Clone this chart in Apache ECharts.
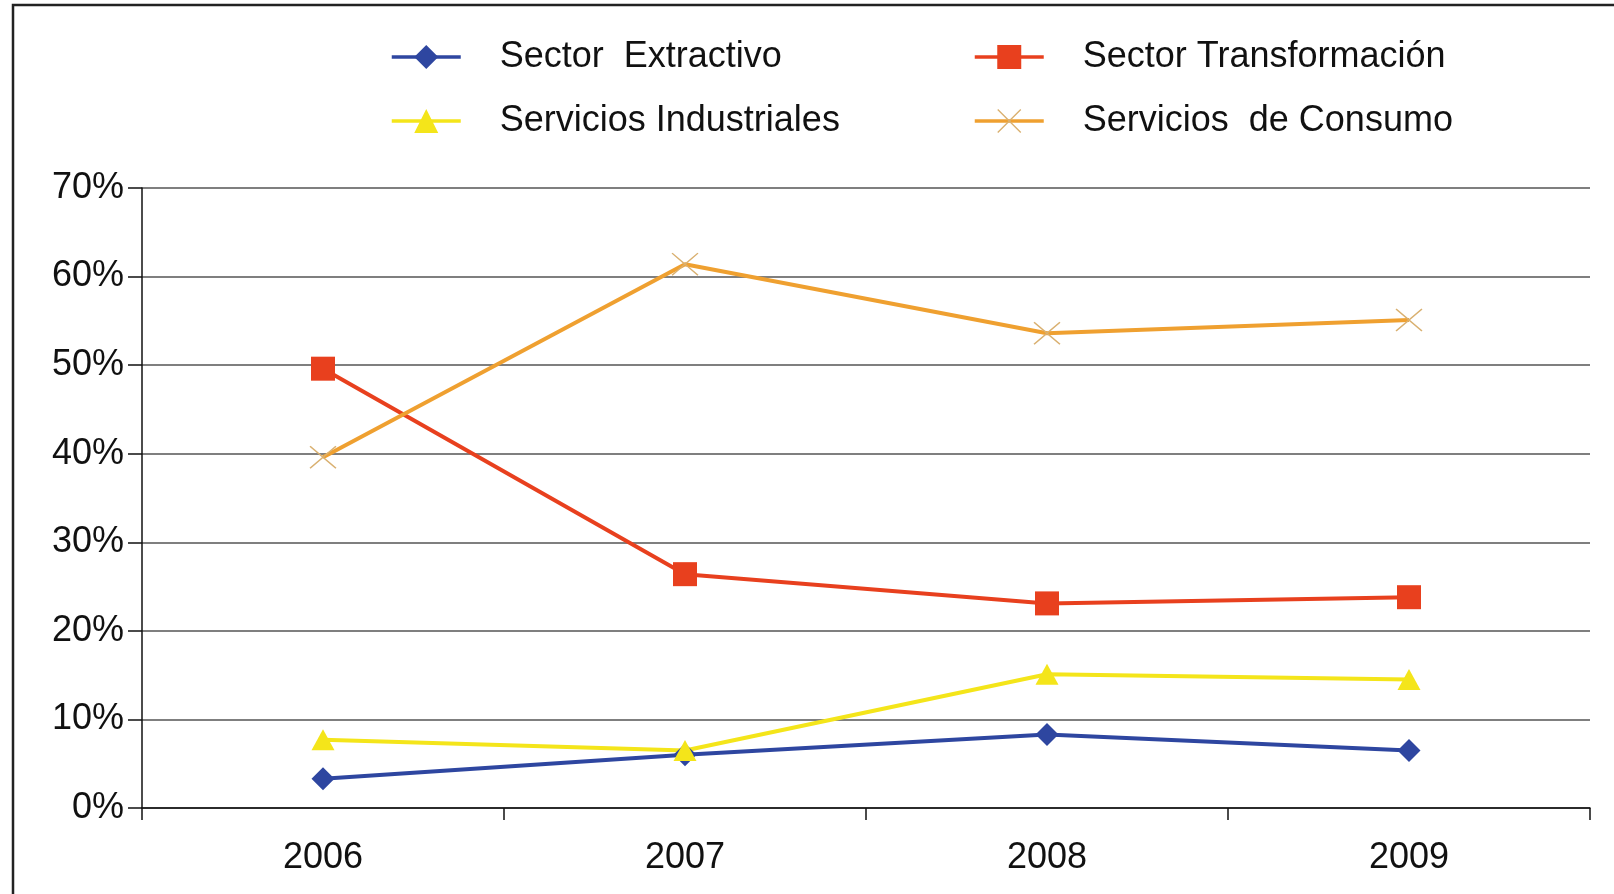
<!DOCTYPE html>
<html>
<head>
<meta charset="utf-8">
<script src="https://cdn.jsdelivr.net/npm/echarts@6/dist/echarts.min.js"></script>
<style>
  html, body { margin: 0; padding: 0; background: #fff; }
  #chart { width: 1614px; height: 894px; }
</style>
</head>
<body>
<div id="chart"></div>
<script>
// data (percent)
var years = ['2006', '2007', '2008', '2009'];
var extractivo = [3.3, 6.0, 8.3, 6.5];
var transformacion = [49.6, 26.4, 23.1, 23.8];
var industriales = [7.7, 6.5, 15.1, 14.5];
var consumo = [39.6, 61.4, 53.6, 55.1];
var yTicks = [0, 10, 20, 30, 40, 50, 60, 70];

var names = ['Sector  Extractivo', 'Sector Transformación', 'Servicios Industriales', 'Servicios  de Consumo'];
var crossPath = 'path://M0,4L4,0L50,46L96,0L100,4L54,50L100,96L96,100L50,54L4,100L0,96L46,50Z';

var chart = echarts.init(document.getElementById('chart'));

function legendAt(name, left, top) {
  return {
    data: [name],
    left: left,
    top: top,
    itemWidth: 69,
    itemHeight: 30,
    selectedMode: false,
    lineStyle: { width: 3.5 },
    textStyle: { fontSize: 36, color: '#111', fontFamily: 'Liberation Sans', padding: [0, 0, 0, 34] }
  };
}

var option = {
  animation: false,
  backgroundColor: '#fff',
  legend: [
    legendAt(names[0], 385, 34),
    legendAt(names[1], 968, 34),
    legendAt(names[2], 385, 98),
    legendAt(names[3], 968, 98)
  ],
  grid: { left: 142, right: 24, top: 188, bottom: 86 },
  xAxis: {
    type: 'category',
    data: years,
    boundaryGap: true,
    axisLine: { lineStyle: { color: '#111', width: 1.5 } },
    axisTick: { show: true, length: 12, lineStyle: { color: '#111', width: 1.5 } },
    axisLabel: { fontSize: 36, color: '#111', fontFamily: 'Liberation Sans', margin: 32 },
    splitLine: { show: false }
  },
  yAxis: {
    type: 'value',
    min: yTicks[0],
    max: yTicks[yTicks.length - 1],
    interval: 10,
    axisLine: { show: true, lineStyle: { color: '#111', width: 1.5 } },
    axisTick: { show: true, length: 14, lineStyle: { color: '#111', width: 1.5 } },
    axisLabel: { fontSize: 36, color: '#111', fontFamily: 'Liberation Sans', margin: 18, formatter: '{value}%' },
    splitLine: { show: true, lineStyle: { color: '#555', width: 1.5 } }
  },
  series: [
    {
      name: names[0], type: 'line', data: extractivo,
      symbol: 'diamond', symbolSize: 23,
      lineStyle: { color: '#2E46A0', width: 4 },
      itemStyle: { color: '#2E46A0' }
    },
    {
      name: names[1], type: 'line', data: transformacion,
      symbol: 'rect', symbolSize: 24,
      lineStyle: { color: '#E8401E', width: 4 },
      itemStyle: { color: '#E8401E' }
    },
    {
      name: names[2], type: 'line', data: industriales,
      symbol: 'triangle', symbolSize: [23, 21],
      lineStyle: { color: '#F4E51A', width: 4 },
      itemStyle: { color: '#F4E51A' }
    },
    {
      name: names[3], type: 'line', data: consumo,
      symbol: crossPath, symbolSize: [27, 23],
      lineStyle: { color: '#EFA030', width: 4 },
      itemStyle: { color: '#D9B070' }
    }
  ],
  graphic: [
    {
      type: 'polyline',
      shape: { points: [[13, 894], [13, 5], [1614, 5]] },
      style: { stroke: '#222', lineWidth: 2.5, fill: null }
    }
  ]
};

chart.setOption(option);
</script>
</body>
</html>
